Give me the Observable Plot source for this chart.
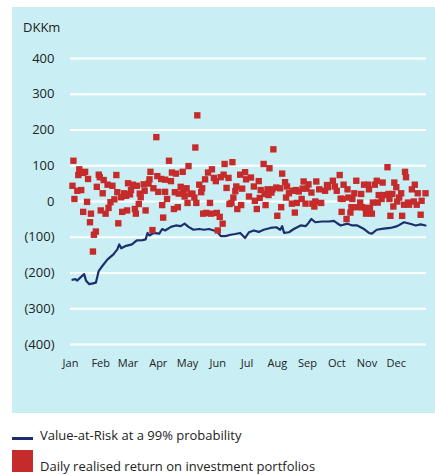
<!DOCTYPE html>
<html>
<head>
<meta charset="utf-8">
<script src="https://cdn.jsdelivr.net/npm/d3@7"></script>
<script src="https://cdn.jsdelivr.net/npm/@observablehq/plot@0.6"></script>
<style>
  body { margin: 0; background: #ffffff; font-family: "Open Sans", sans-serif; color: #222; }
  #panel { position: absolute; left: 12px; top: 7px; width: 423px; height: 406px; background: #c9eff4; }
  #unit { position: absolute; left: 11px; top: 12px; font-size: 13px; line-height: 16px; }
  .leg { position: absolute; font-size: 13px; line-height: 16px; white-space: nowrap; }
</style>
</head>
<body>
<div id="panel"><div id="unit">DKKm</div></div>
<div style="position:absolute;left:12px;top:437px;width:21px;height:3px;background:#1c2f6c"></div>
<div class="leg" style="left:40px;top:427px">Value-at-Risk at a 99% probability</div>
<div style="position:absolute;left:12px;top:450px;width:21px;height:22px;background:#c62b2b"></div>
<div class="leg" style="left:40px;top:458px">Daily realised return on investment portfolios</div>
<script>
// Year axis: day-of-year offsets from 1 January
const yearStart = Date.UTC(2013, 0, 1);
const monthLabels = ["Jan","Feb","Mar","Apr","May","Jun","Jul","Aug","Sep","Oct","Nov","Dec"];
const yTicks = [400, 300, 200, 100, 0, -100, -200, -300, -400];

// Value-at-Risk (99%), DKKm
const varDay = [2,5,7,10,14,16,19,23,26,29,33,38,44,48,50,52,56,63,68,74,77,79,81,85,91,94,97,103,108,113,117,121,126,132,137,142,147,150,154,159,164,169,174,179,183,188,193,198,205,211,215,217,219,224,229,236,241,244,247,251,258,265,270,273,277,284,289,294,301,306,309,314,321,328,335,342,349,354,359,364];
const varValue = [-219,-217,-221,-213,-203,-222,-231,-229,-227,-194,-179,-162,-148,-134,-120,-131,-125,-120,-109,-108,-106,-88,-95,-88,-90,-77,-81,-71,-67,-69,-62,-71,-79,-77,-79,-77,-81,-83,-97,-97,-93,-91,-88,-102,-86,-81,-85,-79,-74,-72,-79,-69,-88,-86,-77,-67,-69,-60,-49,-58,-56,-56,-54,-60,-67,-62,-67,-67,-77,-88,-90,-79,-76,-74,-69,-58,-63,-67,-64,-67];

// Daily realised return, DKKm
const retDay = [2,3,4,7,8,9,11,13,13,15,17,18,20,21,23,24,26,27,29,30,31,33,34,36,38,39,41,43,45,47,48,49,52,53,55,57,58,59,61,62,64,66,67,68,70,71,72,75,76,77,80,81,82,84,85,88,89,90,
93,94,95,97,97,99,101,103,104,106,107,108,110,111,113,115,116,117,119,120,121,123,125,127,128,129,130,132,134,135,136,138,139,141,143,144,145,147,149,150,151,153,154,156,157,158,160,162,163,165,166,167,169,170,171,174,175,176,179,180,183,
185,188,189,191,193,194,195,198,199,200,202,203,204,206,207,208,211,212,215,216,217,220,221,222,224,227,228,230,231,232,234,237,238,239,241,242,244,247,248,250,251,252,255,257,261,263,264,269,271,273,
276,277,278,279,280,283,284,285,287,288,289,291,293,294,297,298,299,301,302,303,305,306,307,309,310,312,314,315,316,319,320,321,325,326,327,328,330,331,332,334,335,337,339,340,342,343,344,346,347,350,352,353,355,356,359,360,364];
const retValue = [44,114,7,30,74,90,32,-29,80,83,-1,63,-58,-34,-140,-93,-84,41,75,68,-25,23,60,-34,47,-18,-2,44,6,74,26,-61,12,-29,23,16,-25,51,20,32,47,-21,-34,44,-7,22,12,48,30,-25,50,62,83,-80,37,180,71,27,
63,-10,-45,27,61,7,114,57,81,-21,26,78,-16,22,41,83,24,14,37,-4,99,21,22,11,151,-4,241,47,26,37,-34,62,-32,81,-4,-34,90,66,57,-32,-81,-43,68,-62,75,105,38,66,-7,-4,110,11,29,42,-21,75,-10,36,82,62,14,
67,42,2,-21,57,10,32,105,21,-10,34,18,93,25,34,146,39,-40,37,-16,78,54,11,42,23,-6,30,-31,32,-4,28,7,36,56,-6,36,48,25,-6,-14,0,56,34,-4,30,46,40,58,42,30,
74,8,-29,7,47,-49,34,11,-31,-16,7,23,58,-16,-3,21,-16,47,-18,-34,47,34,-18,-34,-3,47,58,-3,18,7,53,18,96,21,7,-40,21,-14,53,40,0,11,23,-40,-9,83,68,-3,-9,34,0,47,-9,23,-37,2,23];

const toDate = d => new Date(yearStart + d * 864e5);
const varData = varDay.map((d, i) => ({date: toDate(d), value: varValue[i]}));
const retData = retDay.map((d, i) => ({date: toDate(d), value: retValue[i]}));
const monthStarts = monthLabels.map((m, i) => ({date: new Date(Date.UTC(2013, i, 1)), label: m}));
const fmt = v => v < 0 ? `(${-v})` : `${v}`;

const chart = Plot.plot({
  width: 423,
  height: 406,
  marginLeft: 58,
  marginRight: 9,
  marginTop: 51,
  marginBottom: 69,
  style: {background: "transparent", fontFamily: "Open Sans, sans-serif", color: "#222", overflow: "visible"},
  x: {type: "utc", domain: [toDate(0), toDate(365)], axis: null},
  y: {domain: [-400, 400], axis: null},
  marks: [
    Plot.ruleY(yTicks, {stroke: "#ffffff", strokeWidth: 2}),
    Plot.text(yTicks, {y: d => d, text: fmt, frameAnchor: "left", textAnchor: "end", dx: -16, fontSize: 13, fill: "#222"}),
    Plot.text(monthStarts, {x: "date", text: "label", frameAnchor: "bottom", dy: 22, fontSize: 11, fill: "#222"}),
    Plot.line(varData, {x: "date", y: "value", stroke: "#1c2f6c", strokeWidth: 2.2}),
    Plot.dot(retData, {x: "date", y: "value", symbol: "square", r: 3.6, fill: "#c62b2b", stroke: "none"})
  ]
});
document.getElementById("panel").appendChild(chart);
</script>
</body>
</html>
